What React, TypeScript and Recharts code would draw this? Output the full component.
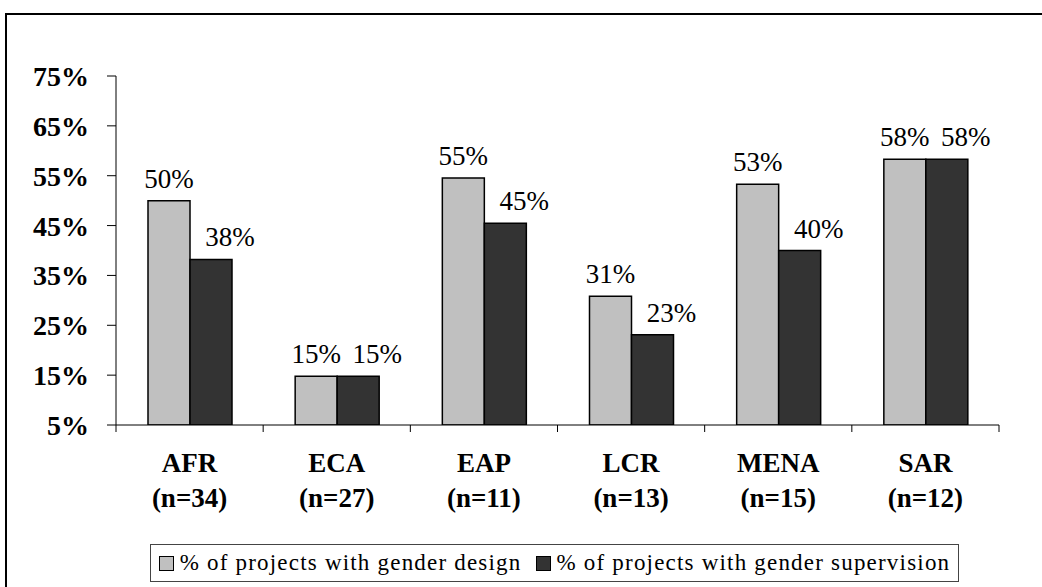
import { BarChart, Bar, XAxis, YAxis, LabelList } from 'recharts'

const regions = ['AFR', 'ECA', 'EAP', 'LCR', 'MENA', 'SAR']
const sampleSizes = ['(n=34)', '(n=27)', '(n=11)', '(n=13)', '(n=15)', '(n=12)']
const genderDesign = [50, 14.8, 54.55, 30.8, 53.3, 58.3]
const genderSupervision = [38.2, 14.8, 45.45, 23.1, 40, 58.3]
const yTicks = [5, 15, 25, 35, 45, 55, 65, 75]

const seriesNames = ['% of projects with gender design', '% of projects with gender supervision']
const LIGHT = '#c0c0c0'
const DARK = '#333333'
const FONT = 'Liberation Serif'

const data = regions.map((r, i) => ({
  region: r,
  n: sampleSizes[i],
  design: genderDesign[i],
  supervision: genderSupervision[i],
}))

const pct = (v: number) => `${Math.round(v)}%`

function RegionTick(props: any) {
  const { x, y, payload, index, visibleTicksCount } = props
  const half = payload?.offset ?? 73.6
  const last = index === (visibleTicksCount ?? regions.length) - 1
  return (
    <g>
      <line x1={x - half} y1={y} x2={x - half} y2={y + 7} stroke="#000" strokeWidth={1} />
      {last && <line x1={x + half} y1={y} x2={x + half} y2={y + 7} stroke="#000" strokeWidth={1} />}
      <text x={x} y={y + 47} textAnchor="middle" fontFamily={FONT} fontWeight="bold" fontSize={27} fill="#000">
        {payload.value}
      </text>
      <text x={x} y={y + 82} textAnchor="middle" fontFamily={FONT} fontWeight="bold" fontSize={27} fill="#000">
        {data[payload.index ?? index]?.n}
      </text>
    </g>
  )
}

const makeLabel = (shift: number) => (props: any) => {
  const { x, y, width, value } = props
  return (
    <text
      x={Number(x) + Number(width) / 2 + shift}
      y={Number(y) - 13}
      textAnchor="middle"
      fontFamily={FONT}
      fontSize={27}
      fill="#000"
    >
      {pct(Number(value))}
    </text>
  )
}

export default function App() {
  return (
    <div style={{ position: 'absolute', left: 0, top: 0, width: 1042, height: 587, overflow: 'hidden', background: '#fff', fontFamily: FONT }}>
      <div
        style={{
          position: 'absolute',
          left: 5,
          top: 13,
          width: 1100,
          height: 700,
          borderLeft: '2px solid #000',
          borderTop: '2px solid #000',
        }}
      />
      <div style={{ position: 'absolute', left: 0, top: 0 }}>
        <BarChart
          width={1042}
          height={587}
          data={data}
          margin={{ top: 76, right: 43, bottom: 0, left: 0 }}
          barSize={42}
          barGap={0}
        >
          <XAxis
            dataKey="region"
            height={162}
            axisLine={{ stroke: '#000', strokeWidth: 1 }}
            tickLine={false}
            tickSize={0}
            tickMargin={0}
            tick={<RegionTick />}
            interval={0}
          />
          <YAxis
            domain={[5, 75]}
            ticks={yTicks}
            allowDataOverflow
            width={116}
            axisLine={{ stroke: '#000', strokeWidth: 1 }}
            tickLine={{ stroke: '#000', strokeWidth: 1 }}
            tickSize={9}
            tickMargin={18}
            tickFormatter={(v: number) => `${v}%`}
            tick={{ fontFamily: FONT, fontWeight: 'bold', fontSize: 28, fill: '#000' }}
          />
          <Bar dataKey="design" name={seriesNames[0]} fill={LIGHT} stroke="#000" strokeWidth={1.5} isAnimationActive={false}>
            <LabelList dataKey="design" content={makeLabel(0)} />
          </Bar>
          <Bar dataKey="supervision" name={seriesNames[1]} fill={DARK} stroke="#000" strokeWidth={1.5} isAnimationActive={false}>
            <LabelList dataKey="supervision" content={makeLabel(19)} />
          </Bar>
        </BarChart>
      </div>
      <div
        style={{
          position: 'absolute',
          left: 150,
          top: 544,
          width: 809,
          height: 38,
          border: '1px solid #444',
          display: 'flex',
          alignItems: 'center',
          justifyContent: 'center',
          gap: 14,
          fontSize: 23,
          letterSpacing: 1.2,
          color: '#000',
          boxSizing: 'border-box',
        }}
      >
        {seriesNames.map((name, i) => (
          <div key={name} style={{ display: 'flex', alignItems: 'center', gap: 6 }}>
            <span
              style={{
                display: 'inline-block',
                width: 13,
                height: 13,
                background: i === 0 ? LIGHT : DARK,
                border: '1.5px solid #000',
              }}
            />
            <span style={{ whiteSpace: 'nowrap' }}>{name}</span>
          </div>
        ))}
      </div>
    </div>
  )
}
